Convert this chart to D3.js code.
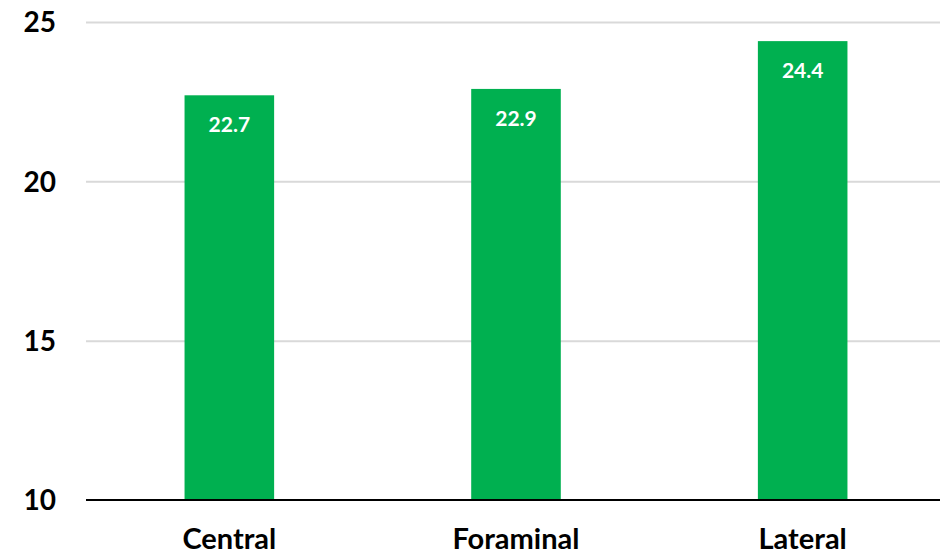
<!DOCTYPE html>
<html>
<head>
<meta charset="utf-8">
<script src="https://cdn.jsdelivr.net/npm/d3@7"></script>
<style>
html,body{margin:0;padding:0;background:#fff;}
svg{display:block;}
text{font-family:Lato,"Open Sans",sans-serif;font-weight:700;}
</style>
</head>
<body>
<svg id="chart" width="940" height="555"></svg>
<script>
const categories = ["Central", "Foraminal", "Lateral"];
const values = [22.7, 22.9, 24.4];
const yTicks = [10, 15, 20, 25];

const svg = d3.select("#chart");
const x = d3.scaleBand().domain(categories).range([86, 946]).paddingInner(0.6875).paddingOuter(0.34375);
const y = d3.scaleLinear().domain([10, 25]).range([500, 22]);

// gridlines
const yAxis = d3.axisLeft(y).tickValues(yTicks).tickSize(-(940 - 86)).tickFormat(d3.format("d"));
const gy = svg.append("g").attr("transform", "translate(86,0)").call(yAxis);
gy.select(".domain").remove();
gy.selectAll(".tick line").attr("stroke", "#d9d9d9").attr("stroke-width", 2)
  .attr("display", d => d === 10 ? "none" : null);
gy.selectAll(".tick text").attr("x", -30).attr("dy", "0.35em")
  .style("font-size", "28px").attr("fill", "#000");

// bars
svg.append("g").selectAll("rect").data(values).join("rect")
  .attr("x", (d, i) => x(categories[i]))
  .attr("width", x.bandwidth())
  .attr("y", d => y(d))
  .attr("height", d => y(10) - y(d))
  .attr("fill", "#00b050");

// value labels
svg.append("g").selectAll("text").data(values).join("text")
  .attr("x", (d, i) => x(categories[i]) + x.bandwidth() / 2)
  .attr("y", d => y(d) + 37)
  .attr("text-anchor", "middle")
  .attr("fill", "#fff")
  .style("font-size", "21px")
  .text(d => d.toFixed(1));

// x axis
const xAxis = d3.axisBottom(x).tickSize(0).tickPadding(0);
const gx = svg.append("g").attr("transform", "translate(0,500)").call(xAxis);
gx.select(".domain").remove();
svg.append("line").attr("x1", 86).attr("x2", 940).attr("y1", 500).attr("y2", 500)
  .attr("stroke", "#000").attr("stroke-width", 2);
gx.selectAll(".tick text").attr("y", 49).attr("dy", 0)
  .style("font-size", "29px").attr("fill", "#000");
</script>
</body>
</html>
